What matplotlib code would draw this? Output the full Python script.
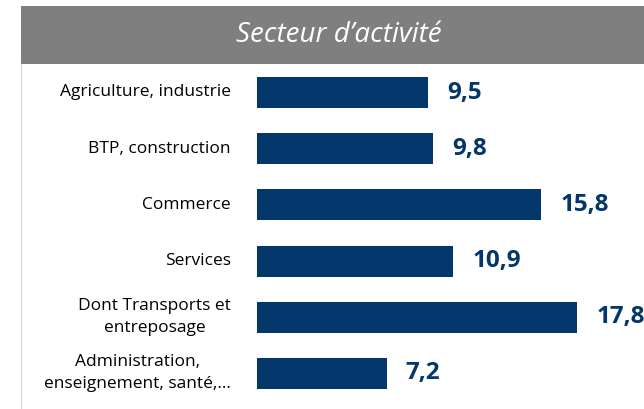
import numpy as np
import matplotlib.pyplot as plt
from matplotlib.patches import Rectangle
from matplotlib.lines import Line2D

categories = [
    "Agriculture, industrie",
    "BTP, construction",
    "Commerce",
    "Services",
    "Dont Transports et\nentreposage",
    "Administration,\nenseignement, santé,…",
]
values = [9.5, 9.8, 15.8, 10.9, 17.8, 7.2]
value_labels = ["9,5", "9,8", "15,8", "10,9", "17,8", "7,2"]
title = "Secteur d\u2019activité"

navy = "#03366a"
W, H = 644, 409

plt.rcParams["font.family"] = ["Open Sans", "DejaVu Sans"]

fig = plt.figure(figsize=(W / 100, H / 100), dpi=100)
fig.patch.set_facecolor("white")

# header band
fig.patches.append(Rectangle((21 / W, 1 - 64 / H), 1 - 21 / W, 58 / H,
                             transform=fig.transFigure, facecolor="#7f7f7f",
                             edgecolor="none", zorder=0))
fig.text(339 / W, 1 - 35 / H, title, color="white", fontsize=20,
         style="italic", ha="center", va="center")

# thin left border
fig.add_artist(Line2D([21 / W, 21 / W], [0, 1 - 64 / H], transform=fig.transFigure,
                      color="#d9d9d9", linewidth=1))

# bars area: starts at x=257px, 18 px per unit
px_per_unit = 18.0
ax = fig.add_axes([257 / W, 0, 1 - 257 / W, 1 - 64 / H])
ax.set_xlim(0, (W - 257) / px_per_unit)
y = np.arange(len(categories))
ax.set_ylim((409 - 92.5) / 56.2, (64 - 92.5) / 56.2)

ax.barh(y, values, height=0.55, color=navy)

for i, (v, lab, cat) in enumerate(zip(values, value_labels, categories)):
    ax.text(v + 19 / px_per_unit, i, lab, color=navy, fontsize=17.5,
            fontweight="bold", ha="left", va="center", clip_on=False)
    ax.text(-26 / px_per_unit, i, cat, color="black", fontsize=12.5,
            ha="right", va="center", multialignment="center", clip_on=False,
            linespacing=1.5)

ax.axis("off")

fig.savefig("out.png", dpi=100)
